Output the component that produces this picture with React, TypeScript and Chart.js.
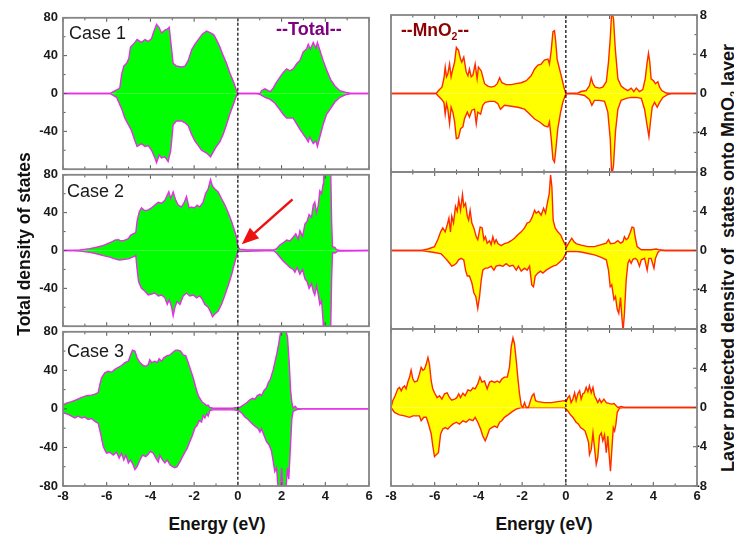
import React, { useEffect, useRef } from 'react';
import { Chart, registerables } from 'chart.js';

Chart.register(...registerables);

type Pt = [number, number];

// ---------- axis settings ----------
const ENERGY_MIN = -8;
const ENERGY_MAX = 6;
const TOTAL_RANGE = 80;
const MNO2_RANGE = 8;

// ---------- Case 1 ----------
const c1TotUp: Pt[] = [[-8,0],[-5.86,0],[-5.7,2],[-5.52,4],[-5.4,6],[-5.32,20],[-5.22,29],[-5.09,32],[-4.99,37],[-4.91,49],[-4.71,54],[-4.61,57],[-4.41,54],[-4.25,57],[-4.1,55],[-3.95,58],[-3.87,64],[-3.72,73],[-3.61,70],[-3.49,64],[-3.34,67],[-3.23,68],[-3.14,70],[-3.07,55],[-2.96,32],[-2.81,29],[-2.58,28],[-2.42,29],[-2.27,35],[-2.12,46],[-1.97,52],[-1.81,57],[-1.62,63],[-1.43,66],[-1.25,64],[-1.1,62],[-0.98,57],[-0.82,49],[-0.67,40],[-0.52,32],[-0.37,22],[-0.21,13],[-0.09,5],[0,0],[1.01,0],[1.08,3],[1.24,5],[1.39,3],[1.49,2],[1.62,6],[1.77,12],[1.92,17],[2.07,22],[2.23,26],[2.38,24],[2.53,26],[2.71,32],[2.84,35],[2.99,44],[3.14,47],[3.22,52],[3.32,47],[3.45,54],[3.57,48],[3.64,54],[3.75,46],[3.9,35],[4.06,25],[4.24,15],[4.44,8],[4.67,3],[4.97,1],[5.2,0],[6,0]];
const c1TotDn: Pt[] = [[-8,0],[-5.86,0],[-5.55,-4],[-5.32,-16],[-5.17,-26],[-5.01,-33],[-4.87,-39],[-4.71,-50],[-4.61,-56],[-4.41,-53],[-4.25,-56],[-4.1,-55],[-3.95,-60],[-3.8,-68],[-3.72,-73],[-3.6,-65],[-3.49,-68],[-3.34,-67],[-3.19,-72],[-3.07,-60],[-2.96,-33],[-2.81,-29],[-2.58,-29],[-2.42,-31],[-2.27,-34],[-2.12,-43],[-1.97,-50],[-1.81,-55],[-1.66,-60],[-1.43,-63],[-1.25,-67],[-1.13,-62],[-0.98,-56],[-0.82,-51],[-0.67,-43],[-0.52,-33],[-0.37,-22],[-0.21,-12],[-0.06,-2],[0,0],[0.85,0],[1.01,-1],[1.24,-4],[1.46,-6],[1.69,-10],[1.92,-17],[2.07,-22],[2.23,-26],[2.38,-26],[2.53,-26],[2.71,-33],[2.84,-38],[2.99,-43],[3.14,-48],[3.22,-51],[3.29,-46],[3.45,-53],[3.57,-50],[3.64,-56],[3.75,-46],[3.9,-33],[4.06,-22],[4.24,-16],[4.44,-9],[4.67,-4],[4.97,-1],[5.2,0],[6,0]];
const c1MnUp: Pt[] = [[-8,0],[-5.93,0],[-5.86,0.2],[-5.78,0.4],[-5.67,0.65],[-5.58,1.5],[-5.52,2.7],[-5.46,1.7],[-5.4,2.0],[-5.32,3.0],[-5.25,1.7],[-5.17,2.5],[-5.09,3.2],[-5.01,4.7],[-4.91,4.4],[-4.82,3.5],[-4.76,3.2],[-4.67,3.7],[-4.56,2.2],[-4.48,1.8],[-4.41,2.5],[-4.33,1.7],[-4.25,1.9],[-4.15,3.0],[-4.06,1.5],[-4.0,2.7],[-3.87,2.3],[-3.8,1.7],[-3.72,1.0],[-3.57,0.75],[-3.42,0.65],[-3.26,0.75],[-3.14,1.0],[-3.03,1.6],[-2.93,1.1],[-2.73,0.9],[-2.5,0.9],[-2.27,1.0],[-2.04,1.1],[-1.81,1.3],[-1.59,1.8],[-1.43,2.5],[-1.28,2.9],[-1.13,3.0],[-0.98,3.4],[-0.82,3.5],[-0.75,3.0],[-0.67,4.4],[-0.59,6.3],[-0.52,6.4],[-0.46,5.2],[-0.4,3.5],[-0.29,2.5],[-0.18,1.5],[-0.09,0.65],[0,0],[0.55,0.05],[0.7,0.2],[0.93,0.3],[1.08,0.8],[1.16,1.6],[1.24,1.0],[1.34,0.65],[1.54,0.55],[1.69,0.65],[1.85,1.2],[1.95,3.2],[2.03,5.6],[2.1,8.5],[2.18,7.6],[2.26,4.6],[2.38,1.5],[2.53,0.75],[2.68,0.5],[2.84,0.3],[2.99,0.55],[3.11,0.2],[3.22,0.55],[3.37,0.2],[3.52,0.4],[3.63,1.5],[3.72,3.2],[3.78,4.1],[3.84,3.2],[3.9,1.5],[4.01,1.3],[4.1,1.0],[4.21,1.2],[4.29,0.65],[4.39,0.3],[4.59,0.05],[4.82,0],[6,0]];
const c1MnDn: Pt[] = [[-8,0],[-5.93,0],[-5.86,-0.2],[-5.7,-0.55],[-5.58,-0.9],[-5.52,-2.1],[-5.46,-1.05],[-5.4,-1.6],[-5.32,-3.1],[-5.25,-1.4],[-5.17,-1.9],[-5.09,-2.9],[-5.01,-4.6],[-4.91,-4.5],[-4.82,-3.6],[-4.71,-3.4],[-4.64,-2.6],[-4.51,-1.9],[-4.41,-2.4],[-4.3,-1.7],[-4.18,-1.6],[-4.1,-3.1],[-4.03,-1.9],[-3.9,-2.1],[-3.8,-1.2],[-3.69,-0.9],[-3.49,-0.8],[-3.26,-0.8],[-3.11,-1.05],[-2.99,-1.6],[-2.81,-1.2],[-2.5,-1.3],[-2.2,-1.4],[-1.89,-1.6],[-1.66,-2.1],[-1.43,-2.6],[-1.2,-2.9],[-0.98,-3.3],[-0.82,-3.4],[-0.75,-2.9],[-0.67,-4.6],[-0.59,-6.7],[-0.52,-7.0],[-0.44,-5.3],[-0.37,-3.6],[-0.24,-1.9],[-0.14,-0.9],[-0.03,-0.2],[0,0],[0.55,-0.05],[0.85,-0.2],[1.08,-0.6],[1.19,-1.2],[1.31,-0.7],[1.54,-0.7],[1.77,-0.8],[1.92,-1.9],[2.03,-4.6],[2.1,-8.5],[2.18,-7.3],[2.27,-3.9],[2.38,-1.6],[2.53,-0.7],[2.76,-0.5],[2.99,-0.4],[3.22,-0.4],[3.45,-0.5],[3.6,-1.6],[3.72,-3.3],[3.8,-4.4],[3.87,-2.9],[3.95,-1.4],[4.06,-0.9],[4.18,-1.4],[4.29,-0.9],[4.44,-0.4],[4.67,-0.1],[4.82,0],[6,0]];

// ---------- Case 2 ----------
const c2TotUp: Pt[] = [[-8,0],[-7.69,0],[-7.23,0.7],[-6.77,2],[-6.47,3.4],[-6.24,4.7],[-6.01,6.8],[-5.78,9],[-5.63,11],[-5.47,11.5],[-5.32,10],[-5.17,11],[-5.01,12.5],[-4.91,16],[-4.79,17.6],[-4.67,19],[-4.61,31],[-4.51,41],[-4.41,45],[-4.25,42],[-4.1,43],[-3.95,45],[-3.8,48],[-3.64,51],[-3.49,50],[-3.34,53],[-3.26,57],[-3.16,62],[-3.07,55],[-2.96,62],[-2.84,53],[-2.73,48],[-2.58,46],[-2.47,50],[-2.35,57],[-2.23,45],[-2.12,46],[-2.0,45],[-1.86,48],[-1.74,46],[-1.59,51],[-1.48,60],[-1.36,65],[-1.25,75],[-1.16,68],[-1.05,65],[-0.9,62],[-0.75,55],[-0.59,48],[-0.44,40],[-0.29,31],[-0.18,23],[-0.06,14],[0,4],[0.09,1.4],[0.4,0.7],[0.85,0.5],[1.62,0.5],[1.77,2],[1.92,5.8],[2.07,8],[2.23,11],[2.38,10],[2.53,14],[2.65,17.6],[2.76,12],[2.84,21],[2.96,15],[3.07,28],[3.17,31],[3.26,38],[3.37,35],[3.45,48],[3.52,51],[3.6,40],[3.68,48],[3.75,63],[3.83,60],[3.9,70],[3.93,95],[4.24,95],[4.29,31],[4.33,4],[4.44,3.4],[4.51,1],[4.67,0],[6,0]];
const c2TotDn: Pt[] = [[-8,0],[-7.69,0],[-7.23,-0.7],[-6.77,-2],[-6.47,-3.4],[-6.16,-5.4],[-5.86,-7],[-5.63,-8.8],[-5.43,-10],[-5.25,-9.5],[-5.01,-8.8],[-4.79,-6.8],[-4.67,-5.4],[-4.61,-20],[-4.54,-33],[-4.41,-40],[-4.25,-43],[-4.1,-47],[-3.95,-46],[-3.8,-45],[-3.64,-48],[-3.49,-47],[-3.34,-50],[-3.23,-57],[-3.14,-52],[-3.03,-60],[-2.96,-69],[-2.88,-60],[-2.78,-54],[-2.65,-57],[-2.5,-48],[-2.35,-45],[-2.2,-48],[-2.04,-47],[-1.89,-50],[-1.74,-48],[-1.62,-52],[-1.51,-57],[-1.36,-60],[-1.25,-65],[-1.16,-70],[-1.05,-67],[-0.9,-64],[-0.75,-57],[-0.59,-47],[-0.44,-37],[-0.29,-26],[-0.18,-16],[-0.06,-6],[0,-1],[1.62,0],[1.77,-2.7],[1.92,-6.8],[2.07,-11],[2.23,-14.6],[2.38,-18],[2.53,-20],[2.61,-23],[2.71,-18],[2.84,-25],[2.96,-20],[3.07,-30],[3.17,-33],[3.26,-40],[3.37,-35],[3.45,-43],[3.52,-47],[3.6,-37],[3.68,-47],[3.75,-57],[3.83,-53],[3.9,-75],[3.93,-95],[4.24,-95],[4.29,-30],[4.33,-2.7],[4.44,-2.7],[4.59,-0.5],[6,0]];
const c2MnUp: Pt[] = [[-8,0],[-6.62,0],[-6.31,0.15],[-6.01,0.4],[-5.86,1.1],[-5.73,1.9],[-5.63,2.3],[-5.52,1.9],[-5.43,2.6],[-5.35,3.3],[-5.28,1.9],[-5.22,3.5],[-5.14,2.8],[-5.05,4.5],[-4.97,4.0],[-4.9,5.2],[-4.82,4.1],[-4.73,5.7],[-4.67,4.5],[-4.59,4.8],[-4.51,3.5],[-4.45,3.1],[-4.38,4.1],[-4.3,2.8],[-4.21,2.3],[-4.1,1.4],[-4.03,1.1],[-3.92,2.4],[-3.83,2.3],[-3.75,1.1],[-3.68,1.4],[-3.6,0.75],[-3.49,1.0],[-3.42,0.6],[-3.34,1.4],[-3.26,0.75],[-3.19,1.1],[-3.11,0.7],[-2.96,0.5],[-2.81,0.7],[-2.65,0.8],[-2.5,1.0],[-2.35,1.25],[-2.2,1.6],[-2.04,1.9],[-1.89,2.3],[-1.77,2.8],[-1.66,2.9],[-1.56,3.3],[-1.43,4.1],[-1.36,3.8],[-1.25,4.0],[-1.13,3.6],[-1.02,4.3],[-0.93,3.8],[-0.85,4.8],[-0.76,5.8],[-0.7,7.7],[-0.64,6.5],[-0.58,3.1],[-0.49,2.3],[-0.37,1.9],[-0.24,1.6],[-0.14,1.1],[-0.03,0.6],[0.03,0.35],[0.09,0.6],[0.17,0.9],[0.27,1.25],[0.37,0.9],[0.47,0.7],[0.7,0.55],[1.01,0.4],[1.31,0.4],[1.62,0.6],[1.85,0.75],[1.95,1.1],[2.04,0.7],[2.23,0.75],[2.38,1.0],[2.5,0.75],[2.61,0.9],[2.68,1.4],[2.76,1.1],[2.84,1.25],[2.94,1.8],[3.03,2.4],[3.11,2.3],[3.17,1.4],[3.26,0.4],[3.45,0.07],[3.9,0.07],[4.13,0.15],[4.29,0.07],[4.51,0],[6,0]];
const c2MnDn: Pt[] = [[-8,0],[-6.62,0],[-6.01,-0.2],[-5.7,-0.35],[-5.55,-0.7],[-5.43,-1.0],[-5.32,-1.3],[-5.22,-1.6],[-5.12,-1.5],[-5.01,-1.3],[-4.91,-0.95],[-4.79,-0.8],[-4.67,-0.95],[-4.59,-2.0],[-4.51,-2.6],[-4.41,-2.6],[-4.3,-3.3],[-4.21,-4.3],[-4.12,-4.7],[-4.03,-5.9],[-3.95,-4.7],[-3.87,-3.0],[-3.8,-2.0],[-3.69,-1.8],[-3.57,-1.8],[-3.42,-1.6],[-3.29,-2.0],[-3.19,-1.6],[-3.03,-1.5],[-2.88,-1.6],[-2.73,-1.35],[-2.58,-1.6],[-2.42,-1.5],[-2.27,-2.0],[-2.17,-1.6],[-2.04,-2.1],[-1.89,-1.8],[-1.77,-2.0],[-1.66,-1.6],[-1.56,-3.5],[-1.48,-3.7],[-1.4,-2.6],[-1.28,-2.3],[-1.16,-2.1],[-1.05,-2.3],[-0.9,-2.0],[-0.75,-1.8],[-0.59,-1.6],[-0.44,-1.5],[-0.29,-1.2],[-0.14,-0.9],[-0.03,-0.45],[0.03,-0.1],[0.4,-0.07],[0.7,-0.15],[1.01,-0.3],[1.31,-0.45],[1.62,-0.7],[1.85,-0.95],[1.95,-2.0],[2.03,-3.7],[2.1,-3.5],[2.2,-5.0],[2.27,-4.7],[2.35,-6.0],[2.42,-6.4],[2.5,-4.8],[2.56,-6.7],[2.62,-8.2],[2.68,-6.4],[2.76,-3.0],[2.84,-1.3],[2.91,-0.95],[2.99,-1.3],[3.07,-0.9],[3.17,-0.8],[3.26,-0.95],[3.37,-1.6],[3.45,-0.95],[3.6,-0.8],[3.72,-2.0],[3.8,-0.8],[3.9,-0.8],[4.03,-1.8],[4.1,-0.8],[4.21,-0.2],[4.29,0],[6,0]];

// ---------- Case 3 ----------
const c3TotUp: Pt[] = [[-8,4],[-7.84,6],[-7.61,7.5],[-7.38,9.5],[-7.15,12],[-6.92,13.7],[-6.7,14.3],[-6.54,15.4],[-6.39,17],[-6.31,25.6],[-6.24,32],[-6.09,37.5],[-5.93,39],[-5.78,38],[-5.63,41],[-5.47,43],[-5.32,45],[-5.17,48],[-5.01,49.5],[-4.91,56],[-4.82,61],[-4.71,60],[-4.61,53],[-4.48,48],[-4.33,45],[-4.21,44],[-4.1,46],[-4.03,51],[-3.95,48],[-3.8,49.5],[-3.69,48],[-3.6,52],[-3.49,49.5],[-3.39,53],[-3.26,55],[-3.11,56],[-2.96,59],[-2.84,61],[-2.73,61],[-2.62,60],[-2.5,56],[-2.38,55],[-2.27,48],[-2.17,41],[-2.04,32],[-1.92,22],[-1.81,13.7],[-1.71,10],[-1.62,6.8],[-1.51,5.1],[-1.43,3.4],[-1.36,4],[-1.28,1.4],[-1.13,0.7],[-0.52,0.7],[-0.21,1.0],[0,1.4],[0.09,1.7],[0.21,3.4],[0.32,5.1],[0.43,6.8],[0.55,9.5],[0.67,11],[0.78,10],[0.88,13.7],[1.01,15.4],[1.08,13.7],[1.19,19],[1.31,22],[1.39,27],[1.49,31],[1.62,41],[1.69,48],[1.77,56],[1.85,65],[1.92,75],[2.0,85],[2.15,85],[2.27,75],[2.35,48],[2.41,20],[2.47,6.8],[2.53,0.7],[2.62,2.7],[2.71,0.5],[2.84,0.3],[3.14,0],[6,0]];
const c3TotDn: Pt[] = [[-8,-4],[-7.84,-5],[-7.61,-7.5],[-7.46,-9.5],[-7.31,-7.5],[-7.15,-9.5],[-7.0,-8.5],[-6.85,-11],[-6.7,-10],[-6.54,-13],[-6.39,-15],[-6.28,-25.6],[-6.16,-39],[-6.01,-46],[-5.86,-45],[-5.7,-48],[-5.55,-45],[-5.43,-51],[-5.32,-46],[-5.22,-53],[-5.12,-48],[-5.01,-56],[-4.91,-53],[-4.79,-58],[-4.71,-63],[-4.61,-60],[-4.48,-53],[-4.36,-48],[-4.21,-49.5],[-4.1,-47],[-4.0,-44],[-3.87,-46],[-3.75,-51],[-3.64,-55],[-3.57,-48],[-3.45,-53],[-3.34,-56],[-3.23,-53],[-3.11,-58],[-2.99,-60],[-2.88,-61],[-2.78,-60],[-2.65,-55],[-2.53,-49.5],[-2.42,-45],[-2.32,-41],[-2.2,-34],[-2.07,-27],[-1.97,-20],[-1.86,-17],[-1.77,-12],[-1.66,-13.7],[-1.59,-6.8],[-1.51,-9.5],[-1.43,-5],[-1.36,-7.5],[-1.28,-1.7],[-1.13,-1],[-0.21,-1],[0,-1.7],[0.09,-2.7],[0.21,-5],[0.32,-8.5],[0.47,-11],[0.63,-15],[0.78,-18],[0.93,-20.5],[1.01,-24],[1.08,-20.5],[1.19,-27],[1.31,-34],[1.43,-37.5],[1.54,-44],[1.62,-55],[1.69,-65],[1.77,-61],[1.85,-85],[1.95,-85],[2.0,-61],[2.07,-85],[2.2,-85],[2.27,-61],[2.33,-73],[2.41,-37.5],[2.47,-10],[2.53,-2.7],[2.62,-1.5],[2.76,-0.5],[2.99,0],[6,0]];
const c3MnUp: Pt[] = [[-8,0],[-7.92,0.7],[-7.81,1.2],[-7.69,1.9],[-7.61,2.05],[-7.53,1.7],[-7.46,2.05],[-7.38,2.2],[-7.31,1.9],[-7.23,2.6],[-7.15,3.1],[-7.08,3.8],[-7.0,2.9],[-6.92,2.6],[-6.8,2.7],[-6.7,3.4],[-6.62,4.1],[-6.54,3.8],[-6.47,3.9],[-6.39,4.4],[-6.31,5.1],[-6.24,4.4],[-6.16,2.7],[-6.09,1.9],[-6.01,1.5],[-5.89,1.0],[-5.78,1.2],[-5.67,0.85],[-5.55,1.4],[-5.43,1.5],[-5.32,1.0],[-5.22,0.75],[-5.09,0.85],[-4.99,1.0],[-4.9,1.4],[-4.82,1.0],[-4.71,1.45],[-4.61,1.2],[-4.48,1.8],[-4.36,1.7],[-4.25,2.0],[-4.15,1.9],[-4.03,2.4],[-3.93,3.1],[-3.84,2.6],[-3.72,2.7],[-3.6,1.9],[-3.49,2.6],[-3.39,2.7],[-3.26,2.55],[-3.14,2.7],[-3.03,2.55],[-2.93,2.9],[-2.81,3.1],[-2.68,3.1],[-2.58,4.1],[-2.5,6.2],[-2.42,7.1],[-2.35,6.5],[-2.27,4.8],[-2.2,3.1],[-2.12,1.4],[-2.04,0.2],[-1.97,0],[-1.89,0.5],[-1.81,0],[-1.71,0],[-1.62,0.7],[-1.54,1.2],[-1.46,1.4],[-1.39,0.7],[-1.28,0.6],[-0.98,0.5],[-0.67,0.5],[-0.37,0.6],[-0.06,0.7],[0.02,0.6],[0.09,1.0],[0.17,1.2],[0.24,0.5],[0.32,0.85],[0.4,1.5],[0.47,0.7],[0.55,1.4],[0.63,1.7],[0.7,0.85],[0.78,1.4],[0.85,1.5],[0.93,2.05],[1.01,1.6],[1.08,2.2],[1.16,1.5],[1.24,2.05],[1.31,1.2],[1.39,0.85],[1.46,0.5],[1.54,0.85],[1.62,0.5],[1.74,0.85],[1.85,0.5],[2.0,0.4],[2.1,0.35],[2.2,0.4],[2.3,0.17],[2.38,0],[2.53,0.1],[2.68,0],[6,0]];
const c3MnDn: Pt[] = [[-8,0],[-7.84,-0.5],[-7.61,-0.75],[-7.38,-0.85],[-7.15,-1.0],[-7.0,-0.85],[-6.85,-0.85],[-6.7,-0.85],[-6.62,-1.35],[-6.5,-1.0],[-6.39,-1.0],[-6.31,-1.5],[-6.24,-2.05],[-6.16,-2.7],[-6.09,-3.9],[-6.01,-5.0],[-5.92,-4.8],[-5.83,-4.6],[-5.73,-2.7],[-5.63,-2.2],[-5.52,-2.05],[-5.4,-2.2],[-5.28,-1.9],[-5.17,-1.7],[-5.01,-1.5],[-4.87,-1.7],[-4.71,-1.35],[-4.56,-1.5],[-4.41,-1.2],[-4.25,-1.35],[-4.15,-1.0],[-4.03,-1.5],[-3.9,-2.2],[-3.8,-2.9],[-3.69,-3.4],[-3.6,-2.9],[-3.49,-2.2],[-3.39,-2.05],[-3.26,-1.9],[-3.14,-2.05],[-3.03,-1.5],[-2.93,-1.35],[-2.81,-1.0],[-2.65,-0.75],[-2.5,-0.5],[-2.35,-0.27],[-2.2,-0.1],[-2.04,0],[-0.06,0],[0.09,-0.35],[0.21,-0.75],[0.32,-1.0],[0.47,-1.5],[0.58,-1.7],[0.67,-2.05],[0.78,-2.2],[0.88,-2.4],[0.98,-3.1],[1.04,-3.6],[1.08,-4.8],[1.16,-4.3],[1.24,-2.6],[1.31,-4.1],[1.39,-5.8],[1.46,-5.1],[1.54,-2.9],[1.62,-2.6],[1.69,-3.4],[1.77,-2.8],[1.85,-4.6],[1.92,-2.9],[1.98,-4.8],[2.04,-6.5],[2.1,-4.4],[2.17,-2.05],[2.23,-2.4],[2.29,-1.7],[2.35,-0.5],[2.46,-0.05],[2.68,0],[6,0]];

// arrow annotation in Case 2 (energy, DOS)
const arrowFrom: Pt = [2.5, 54];
const arrowTo: Pt = [0.18, 6.6];

const caseLabels = ['Case 1', 'Case 2', 'Case 3'];

// ---------- layout ----------
const ROW_TOPS = [15, 172, 329];
const ROW_H = 157;
const FONT = '"Liberation Sans", Arial, Helvetica, sans-serif';

interface PanelSpec {
  col: 0 | 1;
  row: number;
  up: Pt[];
  down: Pt[];
  arrow?: { from: Pt; to: Pt };
}

const panels: PanelSpec[] = [
  { col: 0, row: 0, up: c1TotUp, down: c1TotDn },
  { col: 1, row: 0, up: c1MnUp, down: c1MnDn },
  { col: 0, row: 1, up: c2TotUp, down: c2TotDn, arrow: { from: arrowFrom, to: arrowTo } },
  { col: 1, row: 1, up: c2MnUp, down: c2MnDn },
  { col: 0, row: 2, up: c3TotUp, down: c3TotDn },
  { col: 1, row: 2, up: c3MnUp, down: c3MnDn },
];

function makeConfig(p: PanelSpec): any {
  const left = p.col === 0;
  const bottom = p.row === 2;
  const range = left ? TOTAL_RANGE : MNO2_RANGE;
  const minorStep = left ? 20 : 2;
  const labelStep = left ? 40 : 4;
  const fillColor = left ? '#00ff00' : '#ffff00';
  const lineColor = left ? '#e62ee6' : '#ff2a00';
  const tickFont = { family: FONT, size: 13, weight: 'bold' as const };

  const ds = (pts: Pt[]) => ({
    data: pts.map(([x, y]) => ({ x, y })),
    fill: 'origin',
    backgroundColor: fillColor,
    borderColor: lineColor,
    borderWidth: 1.4,
    pointRadius: 0,
    tension: 0,
  });

  const decor = {
    id: 'decor',
    afterDatasetsDraw(chart: any) {
      const { ctx, chartArea: a, scales } = chart;
      const xs = scales.x;
      const ys = scales.y;
      ctx.save();
      // Fermi level dashed line
      const x0 = xs.getPixelForValue(0);
      ctx.strokeStyle = '#000';
      ctx.lineWidth = 1.2;
      ctx.setLineDash([3, 2]);
      ctx.beginPath();
      ctx.moveTo(x0, a.top);
      ctx.lineTo(x0, a.bottom);
      ctx.stroke();
      ctx.setLineDash([]);

      // inward ticks
      ctx.strokeStyle = '#555';
      ctx.lineWidth = 1;
      ctx.beginPath();
      for (const t of xs.ticks) {
        const px = xs.getPixelForValue(t.value);
        const len = t.value % 2 === 0 ? 4 : 2.5;
        ctx.moveTo(px, a.bottom);
        ctx.lineTo(px, a.bottom - len);
        ctx.moveTo(px, a.top);
        ctx.lineTo(px, a.top + len);
      }
      for (const t of ys.ticks) {
        const py = ys.getPixelForValue(t.value);
        const len = t.value % labelStep === 0 ? 4 : 2.5;
        if (left) {
          ctx.moveTo(a.left, py);
          ctx.lineTo(a.left + len, py);
        } else {
          ctx.moveTo(a.right, py);
          ctx.lineTo(a.right - len, py);
        }
      }
      ctx.stroke();

      // arrow
      if (p.arrow) {
        const x1 = xs.getPixelForValue(p.arrow.from[0]);
        const y1 = ys.getPixelForValue(p.arrow.from[1]);
        const x2 = xs.getPixelForValue(p.arrow.to[0]);
        const y2 = ys.getPixelForValue(p.arrow.to[1]);
        const ang = Math.atan2(y2 - y1, x2 - x1);
        const headLen = 17;
        const headW = 7;
        const bx = x2 - headLen * Math.cos(ang);
        const by = y2 - headLen * Math.sin(ang);
        ctx.strokeStyle = '#ee1111';
        ctx.fillStyle = '#ee1111';
        ctx.lineWidth = 2.5;
        ctx.beginPath();
        ctx.moveTo(x1, y1);
        ctx.lineTo(bx + 2 * Math.cos(ang), by + 2 * Math.sin(ang));
        ctx.stroke();
        ctx.beginPath();
        ctx.moveTo(x2, y2);
        ctx.lineTo(bx + headW * Math.sin(ang), by - headW * Math.cos(ang));
        ctx.lineTo(bx - headW * Math.sin(ang), by + headW * Math.cos(ang));
        ctx.closePath();
        ctx.fill();
      }

      // frame
      ctx.strokeStyle = '#858585';
      ctx.lineWidth = 1.8;
      ctx.strokeRect(a.left, a.top, a.right - a.left, a.bottom - a.top);
      ctx.restore();
    },
  };

  return {
    type: 'line',
    data: { datasets: [ds(p.up), ds(p.down)] },
    options: {
      responsive: false,
      maintainAspectRatio: false,
      animation: false,
      events: [],
      layout: {
        autoPadding: false,
        padding: left
          ? { top: 10, bottom: bottom ? 0 : 10, left: 0, right: 11 }
          : { top: 10, bottom: bottom ? 0 : 10, left: 10, right: 0 },
      },
      plugins: { legend: { display: false }, tooltip: { enabled: false }, title: { display: false } },
      scales: {
        x: {
          type: 'linear',
          position: 'bottom',
          min: ENERGY_MIN,
          max: ENERGY_MAX,
          grid: { display: false, drawTicks: false },
          border: { display: false },
          ticks: {
            display: bottom,
            stepSize: 1,
            autoSkip: false,
            maxRotation: 0,
            padding: 3,
            font: tickFont,
            color: '#1a1a1a',
            callback: (v: number) => (v % 2 === 0 ? String(v) : ''),
          },
          afterFit: (s: any) => {
            s.height = bottom ? 25 : 0;
          },
        },
        y: {
          type: 'linear',
          position: left ? 'left' : 'right',
          min: -range,
          max: range,
          grid: { display: false, drawTicks: false },
          border: { display: false },
          ticks: {
            stepSize: minorStep,
            autoSkip: false,
            padding: left ? 5 : 0,
            crossAlign: left ? 'near' : 'far',
            font: tickFont,
            color: '#1a1a1a',
            callback: (v: number) =>
              v % labelStep === 0 && (v > -range || bottom) ? String(v) : '',
          },
          afterFit: (s: any) => {
            s.width = left ? 63 : 10;
          },
        },
      },
    },
    plugins: [decor],
  };
}

function Panel({ spec }: { spec: PanelSpec }) {
  const ref = useRef<HTMLCanvasElement>(null);
  const left = spec.col === 0;
  const w = left ? 380 : 326;
  const h = 10 + ROW_H + (spec.row === 2 ? 25 : 10);
  const x = left ? 0 : 381;
  const y = ROW_TOPS[spec.row] - 10;
  useEffect(() => {
    const chart = new Chart(ref.current as HTMLCanvasElement, makeConfig(spec));
    return () => chart.destroy();
  }, []);
  return (
    <canvas
      ref={ref}
      width={w}
      height={h}
      style={{ position: 'absolute', left: x, top: y, width: w, height: h }}
    />
  );
}

const Sub2 = () => (
  <span style={{ fontSize: '0.6em', position: 'relative', top: '0.35em' }}>2</span>
);

export default function App() {
  const caseTops = [24, 181.5, 341.8];
  const caseLefts = [69, 67, 67];
  const base: React.CSSProperties = {
    position: 'absolute',
    fontFamily: FONT,
    whiteSpace: 'pre',
    color: '#111',
  };
  return (
    <div
      style={{
        position: 'absolute',
        left: 0,
        top: 0,
        width: 734,
        height: 536,
        background: '#fff',
        overflow: 'hidden',
      }}
    >
      {panels.map((p, i) => (
        <Panel key={i} spec={p} />
      ))}
      {caseLabels.map((t, i) => (
        <div
          key={t}
          style={{ ...base, left: caseLefts[i], top: caseTops[i], fontSize: 18, lineHeight: '18px', color: '#1a1a1a' }}
        >
          {t}
        </div>
      ))}
      <div style={{ ...base, left: 276, top: 20, fontSize: 18, lineHeight: '18px', fontWeight: 'bold', color: '#800080' }}>
        --Total--
      </div>
      <div style={{ ...base, left: 401, top: 21.2, fontSize: 17.5, lineHeight: '18px', fontWeight: 'bold', color: '#8b0000' }}>
        --MnO<Sub2 />--
      </div>
      <div
        style={{
          ...base,
          left: 23.5 - 150,
          top: 243.5 - 10,
          width: 300,
          height: 20,
          lineHeight: '20px',
          textAlign: 'center',
          fontSize: 17.5,
          fontWeight: 'bold',
          transform: 'rotate(-90deg)',
        }}
      >
        Total density of states
      </div>
      <div
        style={{
          ...base,
          left: 728 - 250,
          top: 257.5 - 10,
          width: 500,
          height: 20,
          lineHeight: '20px',
          textAlign: 'center',
          fontSize: 18,
          fontWeight: 'bold',
          transform: 'rotate(-90deg)',
        }}
      >
        Layer projected density of  states onto MnO<Sub2 /> layer
      </div>
      <div
        style={{ ...base, left: 217 - 100, top: 514, width: 200, lineHeight: '20px', textAlign: 'center', fontSize: 17.5, fontWeight: 'bold' }}
      >
        Energy (eV)
      </div>
      <div
        style={{ ...base, left: 544 - 100, top: 514, width: 200, lineHeight: '20px', textAlign: 'center', fontSize: 17.5, fontWeight: 'bold' }}
      >
        Energy (eV)
      </div>
    </div>
  );
}
